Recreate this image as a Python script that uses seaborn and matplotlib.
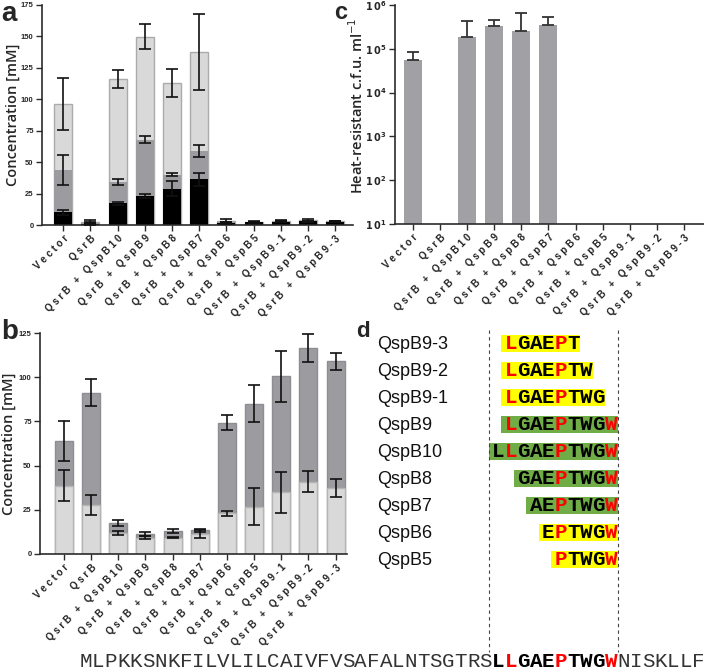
import numpy as np
import matplotlib
matplotlib.use('Agg')
import matplotlib.pyplot as plt
import seaborn as sns
from matplotlib.patches import Rectangle
from matplotlib.ticker import NullLocator

labels = ['Vector', 'QsrB', 'QsrB + QspB10', 'QsrB + QspB9', 'QsrB + QspB8', 'QsrB + QspB7',
          'QsrB + QspB6', 'QsrB + QspB5', 'QsrB + QspB9-1', 'QsrB + QspB9-2', 'QsrB + QspB9-3']

# panel a: three overlaid measurements
a_light = [96, 2.7, 116, 149.8, 112.7, 137.9, 3.2, 2.5, 3, 3.8, 2.9]
a_light_err = [20.7, 1.2, 7.4, 10, 11.2, 30.2, 1.2, 0.5, 0.8, 1.2, 0.5]
a_mid = [43.8, 1.9, 34.2, 68, 40, 58.9, 2.1, 2, 2.5, 3, 2.5]
a_mid_err = [11.7, 0.5, 2.3, 2.5, 1, 4.6, 0.5, 0.3, 0.5, 0.5, 0.3]
a_black = [10, 0.8, 17.2, 23.3, 28.9, 36.3, 1.3, 2, 2.5, 3, 2.5]
a_black_err = [2, 0.5, 1.3, 1.6, 6.2, 4.9, 0.5, 0.3, 0.5, 0.5, 0.3]

# panel b: two overlaid measurements
b_dark = [64, 91.3, 17.4, 11.5, 13, 13.5, 74.3, 84.9, 100.4, 116.4, 108.9]
b_dark_err = [11.3, 7.5, 1.7, 1.2, 1, 0.8, 4.3, 10.5, 14.2, 8, 4.7]
b_light = [38.5, 27.7, 12, 9.3, 9.3, 11.5, 23, 26.8, 35, 41, 37.2]
b_light_err = [8.8, 5.6, 1, 1, 0.5, 2.2, 1.3, 10.3, 11.6, 5.9, 5.2]

# panel c: heat-resistant cfu (nan = none detected)
c_cfu = [5.5e4, np.nan, 1.85e5, 3.4e5, 2.55e5, 3.5e5, np.nan, np.nan, np.nan, np.nan, np.nan]
c_cfu_top = [8.5e4, np.nan, 4.3e5, 4.5e5, 6.6e5, 5.3e5, np.nan, np.nan, np.nan, np.nan, np.nan]

# panel d: peptide alignment
pep_names = ['QspB9-3', 'QspB9-2', 'QspB9-1', 'QspB9', 'QspB10', 'QspB8', 'QspB7', 'QspB6', 'QspB5']
pep_seqs = ['LGAEPT', 'LGAEPTW', 'LGAEPTWG', 'LGAEPTWGW', 'LLGAEPTWGW', 'GAEPTWGW', 'AEPTWGW', 'EPTWGW', 'PTWGW']
pep_start = [1, 1, 1, 1, 0, 2, 3, 4, 5]
pep_active = [False, False, False, True, True, True, True, False, False]
red_cols = [1, 5, 9]
full_seq = 'MLPKKSNKFILVLILCAIVFVSAFALNTSGTRSLLGAEPTWGWNISKLLF'
core_start = 33
core_len = 10

sns.set_style('ticks')
plt.rcParams['font.family'] = ['Liberation Sans', 'DejaVu Sans']

LIGHT = '#d9d9d9'
MID = '#9c9ca0'
AXC = '#2b2b2b'


def spaced(s):
    return ' '.join(s)


def bars(ax, vals, color, edge=None):
    sns.barplot(x=labels, y=vals, order=labels, color=color, saturation=1, width=0.66,
                errorbar=None, edgecolor=edge if edge else color, linewidth=1.0 if edge else 0, ax=ax)


def errs(ax, vals, err):
    ax.errorbar(np.arange(len(vals)), vals, yerr=err, fmt='none', ecolor='#111111',
                elinewidth=1.2, capsize=4.5, capthick=1.2, zorder=5)


def style(ax, ylab, lab_x, lab_y=0.5):
    sns.despine(ax=ax)
    for s in ['left', 'bottom']:
        ax.spines[s].set_color(AXC)
        ax.spines[s].set_linewidth(1.2)
    ax.tick_params(axis='both', direction='out', length=4, width=1, color=AXC, pad=2)
    ax.set_xticks(range(len(labels)))
    ax.set_xticklabels([spaced(l) for l in labels], rotation=45, ha='right',
                       rotation_mode='anchor', fontsize=7, fontweight='bold', color='#222222')
    for t in ax.get_yticklabels():
        t.set_fontweight('bold')
    ax.set_xlabel('')
    ax.set_ylabel(ylab, family='Open Sans', fontweight='semibold', fontsize=10.5)
    ax.yaxis.set_label_coords(lab_x, lab_y)


fig = plt.figure(figsize=(7.04, 6.70), dpi=100)

# ---- a
ax_a = fig.add_axes([42 / 704, 1 - 225 / 670, 311 / 704, 220 / 670])
bars(ax_a, a_light, LIGHT, '#ababab')
bars(ax_a, a_mid, MID)
bars(ax_a, a_black, 'black')
errs(ax_a, a_light, a_light_err)
errs(ax_a, a_mid, a_mid_err)
errs(ax_a, a_black, a_black_err)
ax_a.set_ylim(0, 175)
ax_a.set_yticks(range(0, 176, 25))
ax_a.set_yticklabels([str(v) for v in range(0, 176, 25)], fontsize=5.5)
ax_a.set_xlim(-0.78, 10.65)
style(ax_a, 'Concentration [mM]', -0.072)

# ---- b
ax_b = fig.add_axes([40 / 704, 1 - 554 / 670, 307 / 704, 221 / 670])
bars(ax_b, b_dark, MID, '#8e8e92')
bars(ax_b, b_light, LIGHT, '#b5b5b5')
errs(ax_b, b_dark, b_dark_err)
errs(ax_b, b_light, b_light_err)
ax_b.set_ylim(0, 125)
ax_b.set_yticks(range(0, 126, 25))
ax_b.set_yticklabels([str(v) for v in range(0, 126, 25)], fontsize=5.5)
ax_b.set_xlim(-0.88, 10.42)
style(ax_b, 'Concentration [mM]', -0.078)

# ---- c
ax_c = fig.add_axes([395 / 704, 1 - 224 / 670, 309 / 704, 219 / 670])
bars(ax_c, c_cfu, '#a0a0a5')
ax_c.set_yscale('log')
up = np.array(c_cfu_top) - np.array(c_cfu)
ax_c.errorbar(np.arange(len(c_cfu)), c_cfu, yerr=[np.zeros(len(c_cfu)), up], fmt='none',
              ecolor='#333333', elinewidth=1.3, capsize=4.5, capthick=1.3, zorder=5)
ax_c.set_ylim(10, 1e6)
decs = [1, 2, 3, 4, 5, 6]
ax_c.set_yticks([10.0 ** d for d in decs])
ax_c.set_yticklabels([r'$\mathbf{1\,0^{%d}}$' % d for d in decs], fontsize=7)
ax_c.yaxis.set_minor_locator(NullLocator())
ax_c.set_xlim(-0.66, 10.74)
style(ax_c, 'Heat-resistant c.f.u. ml$^{-1}$', -0.095, 0.54)

# ---- d (drawn in pixel coordinates on an overlay)
ax_d = fig.add_axes([0, 0, 1, 1])
ax_d.set_xlim(0, 704)
ax_d.set_ylim(670, 0)
ax_d.axis('off')

cw = 12.5
col0 = 492
row_y = 343 + 27 * np.arange(len(pep_names))
mono = 'Liberation Mono'

for name, seq, st, act, y in zip(pep_names, pep_seqs, pep_start, pep_active, row_y):
    ax_d.text(377, y + 6, name, fontsize=13, ha='left', va='baseline', color='#111111')
    x0 = col0 + st * cw
    ax_d.add_patch(Rectangle((x0 - 3.5, y - 8.5), len(seq) * cw + 4, 17,
                             facecolor='#70ad47' if act else '#ffff00', edgecolor='none', zorder=1))
    for i, ch in enumerate(seq):
        c = st + i
        ax_d.text(col0 + c * cw + cw / 2, y + 6, ch, family=mono, fontweight='bold', fontsize=15,
                  ha='center', va='baseline', color='red' if c in red_cols else 'black', zorder=2)

# dashed guides around the core
for gx in [col0 - 3, col0 + core_len * cw + 0.5]:
    ax_d.plot([gx, gx], [330, 652], ls=(0, (3, 3)), color='#444444', lw=0.8)

# full precursor sequence
seq_x0 = col0 - core_start * cw
for i, ch in enumerate(full_seq):
    k = i - core_start
    core = 0 <= k < core_len
    ax_d.text(seq_x0 + i * cw + cw / 2, 667, ch, family=mono, fontsize=15,
              fontweight='bold' if core else 'normal', ha='center', va='baseline',
              color='red' if (core and k in red_cols) else ('black' if core else '#333333'))

# panel letters
ax_d.text(1, 21, 'a', fontsize=20, fontweight='bold')
ax_d.text(1, 339, 'b', fontsize=20, fontweight='bold')
ax_d.text(334, 19, 'c', fontsize=17, fontweight='bold')
ax_d.text(356, 337, 'd', fontsize=16, fontweight='bold')

fig.savefig('out.png', dpi=100)
